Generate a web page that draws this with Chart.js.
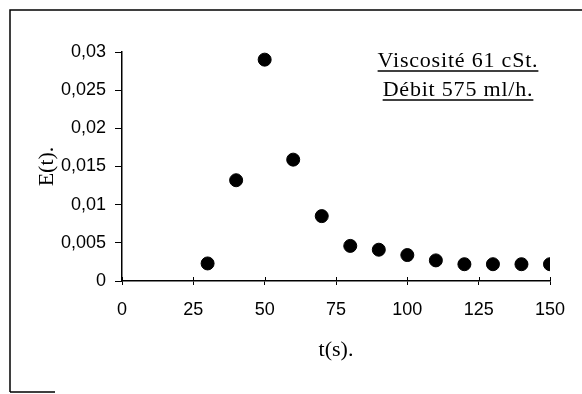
<!DOCTYPE html>
<html>
<head>
<meta charset="utf-8">
<script src="https://cdn.jsdelivr.net/npm/chart.js@4"></script>
<style>
	html, body { margin: 0; padding: 0; background: #fff; }
	#wrap { width: 582px; height: 394px; }
</style>
</head>
<body>
<div id="wrap"><canvas id="residenceTime" width="582" height="394"></canvas></div>
<script>
	// residence time distribution
	const times = [30, 40, 50, 60, 70, 80, 90, 100, 110, 120, 130, 140, 150];
	const eValues = [0.0023, 0.0132, 0.029, 0.0159, 0.0085, 0.0046, 0.0041, 0.0034, 0.0027, 0.0022, 0.0022, 0.0022, 0.0022];
	const yTickLabels = ['0', '0,005', '0,01', '0,015', '0,02', '0,025', '0,03'];
	const noteLines = ['Viscosité 61 cSt.', 'Débit 575 ml/h.'];

	const serif = '"Liberation Serif", "DejaVu Serif", serif';
	const sans = '"Liberation Sans", Arial, sans-serif';

	// scanned page frame + the underlined note
	const paperPlugin = {
		id: 'paper',
		beforeDraw(chart) {
			const ctx = chart.ctx;
			ctx.save();
			ctx.fillStyle = '#fff';
			ctx.fillRect(0, 0, chart.width, chart.height);
			ctx.strokeStyle = '#000';
			ctx.lineWidth = 1.5;
			ctx.beginPath();
			ctx.moveTo(10, 392);
			ctx.lineTo(10, 10);
			ctx.lineTo(582, 10);
			ctx.moveTo(10, 392);
			ctx.lineTo(55, 392);
			ctx.stroke();
			ctx.restore();
		},
		afterDraw(chart) {
			const ctx = chart.ctx;
			const x = chart.scales.x;
			const y = chart.scales.y;
			ctx.save();
			ctx.strokeStyle = '#000';
			ctx.lineWidth = 1;
			// x ticks cross the axis, draw the part above it
			ctx.beginPath();
			x.ticks.forEach(t => {
				const px = Math.round(x.getPixelForValue(t.value)) + 0.5;
				ctx.moveTo(px, y.bottom - 4);
				ctx.lineTo(px, y.bottom);
			});
			ctx.stroke();

			ctx.font = '22px ' + serif;
			ctx.letterSpacing = '0.8px';
			ctx.fillStyle = '#000';
			ctx.textAlign = 'center';
			ctx.textBaseline = 'alphabetic';
			const baselines = [67, 96];
			noteLines.forEach((line, i) => {
				const cx = 458;
				ctx.fillText(line, cx, baselines[i]);
				const w = ctx.measureText(line).width;
				ctx.lineWidth = 1.5;
				ctx.beginPath();
				ctx.moveTo(cx - w / 2, baselines[i] + 4);
				ctx.lineTo(cx + w / 2, baselines[i] + 4);
				ctx.stroke();
			});
			ctx.restore();
		}
	};

	new Chart(document.getElementById('residenceTime'), {
		type: 'scatter',
		data: {
			datasets: [
				{
					label: 'E(t)',
					data: times.map((t, i) => ({ x: t, y: eValues[i] })),
					backgroundColor: '#000',
					borderColor: '#000',
					pointRadius: 6.5,
					pointHoverRadius: 6.5
				}
			]
		},
		options: {
			responsive: false,
			animation: false,
			devicePixelRatio: 1,
			layout: {
				padding: { left: 0, right: 32, top: 52, bottom: 0 }
			},
			scales: {
				x: {
					type: 'linear',
					min: 0,
					max: 150,
					afterFit: scale => { scale.height = 113; },
					ticks: {
						stepSize: 25,
						color: '#000',
						padding: 14,
						maxRotation: 0,
						font: { family: sans, size: 18 }
					},
					grid: {
						drawOnChartArea: false,
						tickLength: 4,
						color: '#000'
					},
					border: { color: '#000', width: 1.5 },
					title: {
						display: true,
						text: 't(s).',
						color: '#000',
						font: { family: serif, size: 22 },
						padding: { top: 0, bottom: 31 }
					}
				},
				y: {
					min: 0,
					max: 0.03,
					afterFit: scale => { scale.width = 122; },
					ticks: {
						stepSize: 0.005,
						color: '#000',
						padding: 9,
						font: { family: sans, size: 18 },
						callback: (value, index) => yTickLabels[index]
					},
					grid: {
						drawOnChartArea: false,
						tickLength: 7,
						color: '#000'
					},
					border: { color: '#000', width: 1.5 },
					title: {
						display: true,
						text: 'E(t).',
						color: '#000',
						font: { family: serif, size: 22 },
						padding: { top: 34, bottom: 0 }
					}
				}
			},
			plugins: {
				legend: { display: false },
				tooltip: { enabled: false }
			}
		},
		plugins: [paperPlugin]
	});
</script>
</body>
</html>
